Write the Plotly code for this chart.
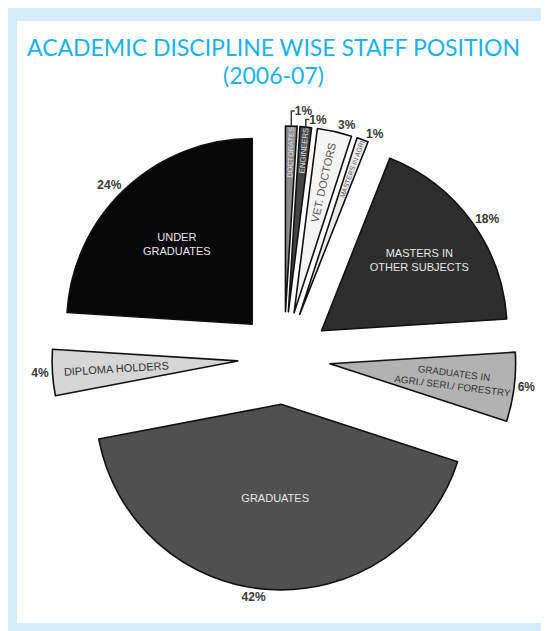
import plotly.graph_objects as go

# Staff position by academic discipline, 2006-07 (percent)
disciplines = [
    "Doctorates", "Engineers", "Vet. Doctors", "Masters in Agri",
    "Masters in Other Subjects", "Graduates in Agri/Seri/Forestry",
    "Graduates", "Diploma Holders", "Under Graduates",
]
shares = [1, 1, 3, 1, 18, 6, 42, 4, 24]
slice_text = [
    "DOCTORATES", "ENGINEERS", "VET. DOCTORS", "MASTERS IN AGRI",
    "MASTERS IN<br>OTHER SUBJECTS", "GRADUATES IN<br>AGRI./ SERI./ FORESTRY",
    "GRADUATES", "DIPLOMA HOLDERS", "UNDER<br>GRADUATES",
]
slice_colors = ["#8c8c8c", "#454545", "#f5f5f5", "#ececec", "#2e2e2e",
                "#b2b2b2", "#505050", "#d6d6d6", "#080808"]
text_colors = ["#e0e0e0", "#e0e0e0", "#555555", "#555555", "#e6e6e6",
               "#333333", "#e6e6e6", "#333333", "#e6e6e6"]
radial_text = [True, True, True, True, False, True, False, True, False]
# the narrow slices' percentages go in two groups so plotly does not
# push them up on leader lines
pct_group_b = [False, True, False, True, False, False, False, False, False]

PULL = 0.25
CLEAR = ["rgba(0,0,0,0)"] * len(shares)
# pie sits inside the white panel, the blue page colour makes the frame
PIE_DOMAIN = dict(x=[35 / 524, 499 / 524], y=[1 - 569 / 602, 1 - 105 / 602])
common = dict(
    labels=disciplines, values=shares, sort=False, direction="clockwise",
    rotation=0, pull=[PULL] * len(shares), showlegend=False, hoverinfo="skip",
    domain=PIE_DOMAIN, automargin=False,
)
label_font = dict(family="Arial, Liberation Sans", size=11, color=text_colors)
pct_font = dict(family="Arial, Liberation Sans", size=12, color="#383838",
                weight="bold")

fig = go.Figure()
# empty cartesian trace so the white plot area gets drawn
fig.add_trace(go.Scatter(x=[0], y=[0], mode="markers", marker=dict(opacity=0),
                         showlegend=False, hoverinfo="skip"))
fig.add_trace(go.Pie(
    marker=dict(colors=slice_colors, line=dict(color="#111111", width=1.6)),
    textinfo="none", **common,
))
fig.add_trace(go.Pie(
    marker=dict(colors=CLEAR, line=dict(width=0)),
    texttemplate=[t if r else "" for t, r in zip(slice_text, radial_text)],
    textposition="inside", insidetextorientation="radial",
    insidetextfont=label_font, **common,
))
fig.add_trace(go.Pie(
    marker=dict(colors=CLEAR, line=dict(width=0)),
    texttemplate=["" if r else t for t, r in zip(slice_text, radial_text)],
    textposition="inside", insidetextorientation="horizontal",
    insidetextfont=label_font, **common,
))
for in_b in (False, True):
    fig.add_trace(go.Pie(
        marker=dict(colors=CLEAR, line=dict(width=0)),
        texttemplate=[f"{v}%" if g == in_b else "" for v, g in zip(shares, pct_group_b)],
        textposition="outside", outsidetextfont=pct_font, **common,
    ))

title_font = dict(family="Lato, Open Sans", size=23, color="#1cb1e9")
fig.add_annotation(text="ACADEMIC DISCIPLINE WISE STAFF POSITION",
                   xref="paper", yref="paper", x=0.4895, y=0.9568,
                   xanchor="center", yanchor="middle",
                   showarrow=False, font=title_font)
fig.add_annotation(text="(2006-07)",
                   xref="paper", yref="paper", x=0.4895, y=0.9103,
                   xanchor="center", yanchor="middle",
                   showarrow=False, font=title_font)

fig.update_xaxes(visible=False, range=[-1, 1])
fig.update_yaxes(visible=False, range=[-1, 1])
fig.update_layout(
    width=538, height=623,
    margin=dict(l=9, r=5, t=13, b=8, autoexpand=False),
    paper_bgcolor="#d5edf9",
    plot_bgcolor="white",
)

fig.write_html("out.html")
